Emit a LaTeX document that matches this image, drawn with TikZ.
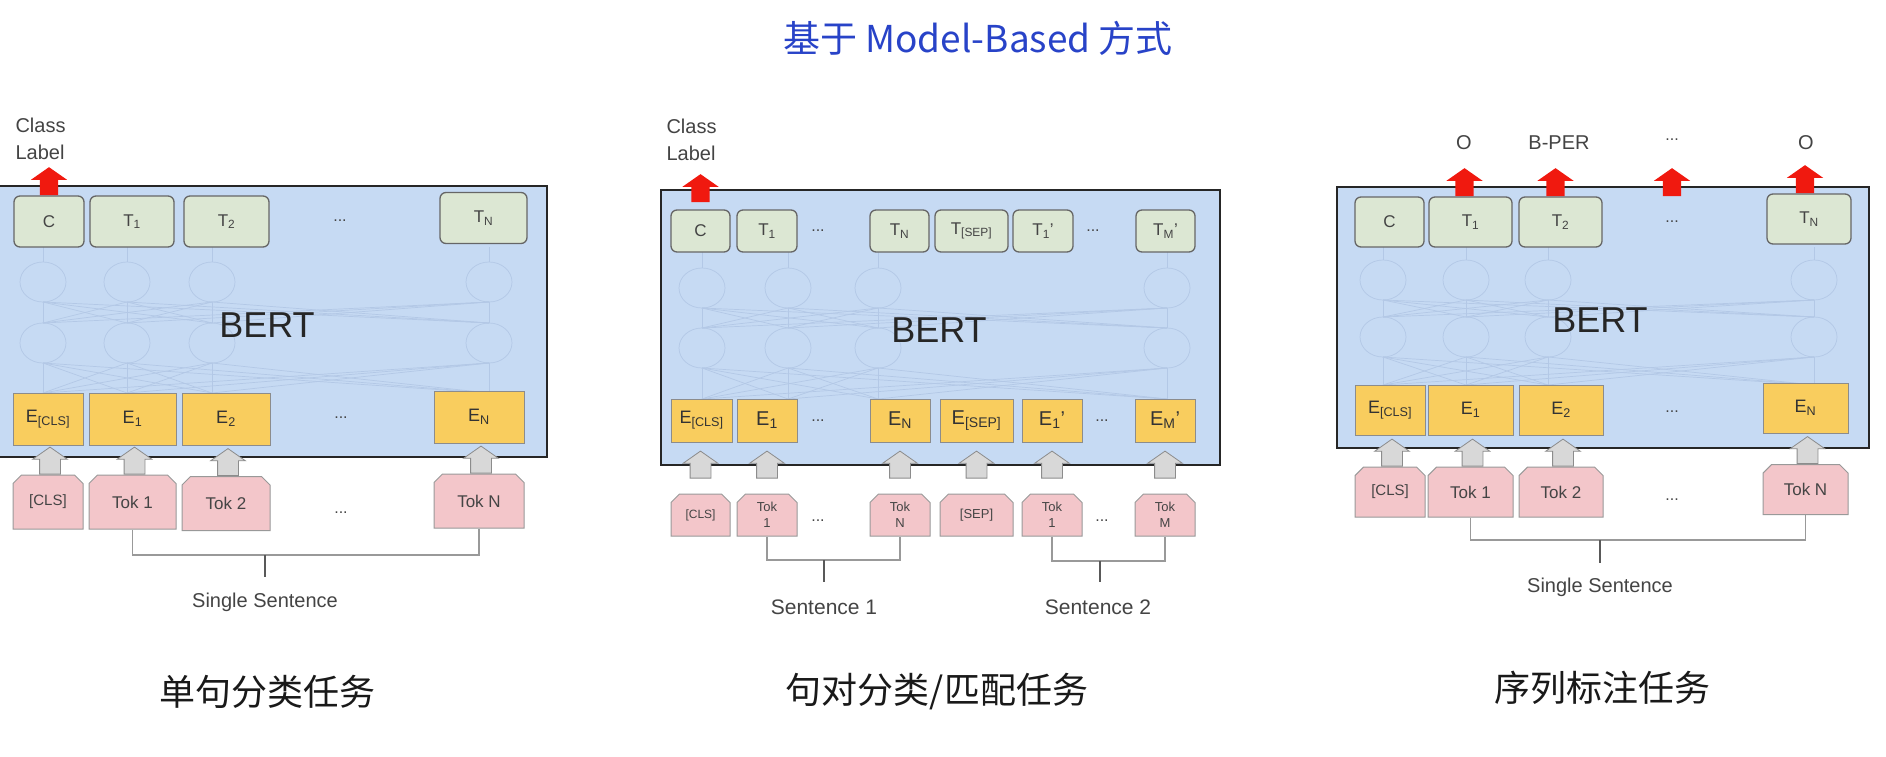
\documentclass[tikz,border=0pt]{standalone}
\usepackage{fontspec}
\setmainfont{Liberation Sans}
\newfontfamily\cjk{Noto Sans CJK SC}
\usepackage{tikz}
\usetikzlibrary{shapes.arrows,shapes.misc,calc}
\usepackage{xcolor}
\definecolor{bertfill}{HTML}{C6DAF3}
\definecolor{netline}{HTML}{B3C8E6}
\definecolor{outfill}{HTML}{DCE7D3}
\definecolor{embfill}{HTML}{F9CD5E}
\definecolor{tokfill}{HTML}{F3C6CA}
\definecolor{redarr}{HTML}{F0190F}
\definecolor{greyarr}{HTML}{D8D8D8}
\definecolor{titleblue}{HTML}{2843C8}
\definecolor{labgray}{HTML}{444444}

\begin{document}
\begin{tikzpicture}[x=1pt,y=-1pt,
  bert/.style={draw=black!85, line width=2.6pt, fill=bertfill},
  outbox/.style={draw=black!60, line width=1.3pt, fill=outfill, rounded corners=6pt, inner sep=0pt, font=\fontsize{17}{20}\selectfont, text=labgray},
  embbox/.style={draw=black!45, line width=1pt, fill=embfill, inner sep=0pt, font=\fontsize{18}{20}\selectfont, text=black!80},
  tokbox/.style={chamfered rectangle, chamfered rectangle corners={north west,north east}, chamfered rectangle xsep=5pt, draw=black!40, line width=1pt, fill=tokfill, inner sep=0pt, font=\fontsize{17}{20}\selectfont, text=labgray},
  redup/.style={single arrow, rotate=90, fill=redarr, draw=none, inner xsep=0pt, inner ysep=9pt, minimum height=28pt, single arrow head extend=9pt, single arrow tip angle=110},
  greyup/.style={single arrow, rotate=90, fill=greyarr, draw=black!45, line width=0.8pt, inner xsep=0pt, inner ysep=10pt, minimum height=27pt, single arrow head extend=7pt, single arrow tip angle=110},
  net/.style={draw=netline, line width=0.7pt},
  dots/.style={text=labgray, font=\fontsize{16}{18}\selectfont},
  lbl/.style={text=labgray, font=\fontsize{20}{27}\selectfont},
  brace/.style={draw=black!40, line width=1.2pt},
  stem/.style={draw=black!65, line width=2.2pt},
  bertlbl/.style={text=black!85, font=\fontsize{36}{40}\selectfont},
  caption/.style={text=black!90, font=\cjk\fontsize{36}{40}\selectfont},
]
\useasboundingbox (0,0) rectangle (1886,757);
\fill[white] (0,0) rectangle (1886,757);

\node[text=titleblue, font=\cjk\fontsize{37}{40}\selectfont] (title) at (978,38) {基于 Model-Based 方式};

% ---- panel 1: single sentence classification
\draw[bert] (-6,186) rectangle (547,457);
\foreach \cx in {43,127,212,489} {
  \draw[net] (\cx,282) ellipse [x radius=23pt, y radius=20pt];
  \draw[net] (\cx,343) ellipse [x radius=23pt, y radius=20pt];
  \draw[net] (\cx,247) -- (\cx,262);
  \foreach \dx in {43,127,212,489} {
    \draw[net] (\cx,302) -- (\dx,323);
    \draw[net] (\cx,363) -- (\dx,393);
  }
}
\node[bertlbl] (bert1) at (267,325) {BERT};
\node[outbox, minimum width=70pt, minimum height=51pt] (c1) at (49,221.5) {C};
\node[outbox, minimum width=84pt, minimum height=51pt] (t11) at (132,221.5) {T\textsubscript{1}};
\node[outbox, minimum width=85pt, minimum height=51pt] (t12) at (226.5,221.5) {T\textsubscript{2}};
\node[dots] (d1t) at (340,221) {...};
\node[outbox, minimum width=87pt, minimum height=51pt] (t1n) at (483.5,218) {T\textsubscript{N}};
\node[embbox, minimum width=70pt, minimum height=52pt] (e10) at (48,419) {E\textsubscript{[CLS]}};
\node[embbox, minimum width=87pt, minimum height=52pt] (e11) at (132.5,419) {E\textsubscript{1}};
\node[embbox, minimum width=88pt, minimum height=52pt] (e12) at (226,419) {E\textsubscript{2}};
\node[dots] (d1e) at (341,418) {...};
\node[embbox, minimum width=90pt, minimum height=52pt] (e1n) at (479,417) {E\textsubscript{N}};
\node[tokbox, minimum width=70pt, minimum height=54pt, font=\fontsize{15}{18}\selectfont] (tk10) at (48,502) {[CLS]};
\node[tokbox, minimum width=87pt, minimum height=54pt] (tk11) at (132.5,502) {Tok 1};
\node[tokbox, minimum width=88pt, minimum height=54pt] (tk12) at (226,503.5) {Tok 2};
\node[dots] (d1k) at (341,513) {...};
\node[tokbox, minimum width=90pt, minimum height=54pt] (tk1n) at (479,501) {Tok N};
\foreach \k in {tk10,tk11,tk12,tk1n}
  \node[greyup, anchor=tail] at ($(\k.north)+(2pt,0)$) {};
\node[redup, anchor=tail] (ra1) at (c1.north) {};
\node[lbl, align=left, anchor=west] (cl1) at (12,139) {Class\\Label};
\coordinate (b1) at (265,555);
\draw[brace] (tk11.south) |- (b1) -| (tk1n.south);
\draw[stem] (b1) -- ++(0,22);
\node[lbl] (ss1) at (265,602) {Single Sentence};
\node[caption] (cap1) at (267,692) {单句分类任务};

% ---- panel 2: sentence pair classification
\draw[bert] (661,190) rectangle (1220,465);
\foreach \cx in {702,788,878,1167} {
  \draw[net] (\cx,288) ellipse [x radius=23pt, y radius=20pt];
  \draw[net] (\cx,348) ellipse [x radius=23pt, y radius=20pt];
  \draw[net] (\cx,252) -- (\cx,268);
  \foreach \dx in {702,788,878,1167} {
    \draw[net] (\cx,308) -- (\dx,328);
    \draw[net] (\cx,368) -- (\dx,399);
  }
}
\node[bertlbl] (bert2) at (939,330) {BERT};
\node[outbox, minimum width=59pt, minimum height=42pt] (c2) at (700.5,231) {C};
\node[outbox, minimum width=60pt, minimum height=42pt] (t21) at (767,231) {T\textsubscript{1}};
\node[dots] (d2t) at (818,231) {...};
\node[outbox, minimum width=59pt, minimum height=42pt] (t2n) at (899.5,231) {T\textsubscript{N}};
\node[outbox, minimum width=73pt, minimum height=42pt] (t2s) at (971.5,231) {T\textsubscript{[SEP]}};
\node[outbox, minimum width=60pt, minimum height=42pt] (t2a) at (1043,231) {T\textsubscript{1}'};
\node[dots] (d2u) at (1093,231) {...};
\node[outbox, minimum width=59pt, minimum height=42pt] (t2m) at (1165.5,231) {T\textsubscript{M}'};
\node[embbox, minimum width=61pt, minimum height=43pt] (e20) at (701.5,420.5) {E\textsubscript{[CLS]}};
\node[embbox, minimum width=60pt, minimum height=43pt, font=\fontsize{20}{22}\selectfont] (e21) at (767,420.5) {E\textsubscript{1}};
\node[dots] (d2e) at (818,421) {...};
\node[embbox, minimum width=60pt, minimum height=43pt, font=\fontsize{20}{22}\selectfont] (e2n) at (900,420.5) {E\textsubscript{N}};
\node[embbox, minimum width=73pt, minimum height=43pt, font=\fontsize{20}{22}\selectfont] (e2s) at (976.5,420.5) {E\textsubscript{[SEP]}};
\node[embbox, minimum width=60pt, minimum height=43pt, font=\fontsize{20}{22}\selectfont] (e2a) at (1052,420.5) {E\textsubscript{1}'};
\node[dots] (d2f) at (1102,421) {...};
\node[embbox, minimum width=60pt, minimum height=43pt, font=\fontsize{20}{22}\selectfont] (e2m) at (1165,420.5) {E\textsubscript{M}'};
\node[tokbox, minimum width=59pt, minimum height=42pt, font=\fontsize{12}{15}\selectfont] (tk20) at (700.5,515) {[CLS]};
\node[tokbox, minimum width=60pt, minimum height=42pt, align=center, font=\fontsize{13}{16}\selectfont] (tk21) at (767,515) {Tok\\1};
\node[dots] (d2k) at (818,521) {...};
\node[tokbox, minimum width=60pt, minimum height=42pt, align=center, font=\fontsize{13}{16}\selectfont] (tk2n) at (900,515) {Tok\\N};
\node[tokbox, minimum width=73pt, minimum height=42pt, font=\fontsize{13}{16}\selectfont] (tk2s) at (976.5,515) {[SEP]};
\node[tokbox, minimum width=60pt, minimum height=42pt, align=center, font=\fontsize{13}{16}\selectfont] (tk2a) at (1052,515) {Tok\\1};
\node[dots] (d2l) at (1102,521) {...};
\node[tokbox, minimum width=60pt, minimum height=42pt, align=center, font=\fontsize{13}{16}\selectfont] (tk2m) at (1165,515) {Tok\\M};
\foreach \k in {tk20,tk21,tk2n,tk2s,tk2a,tk2m}
  \node[greyup, anchor=tail] at ($(\k.north)+(0,15pt)$) {};
\node[redup, anchor=tail] (ra2) at ($(c2.north)+(0,7pt)$) {};
\node[lbl, align=left, anchor=west] (cl2) at (663,139.5) {Class\\Label};
\coordinate (b2) at (824,560);
\coordinate (b3) at (1100,561);
\draw[brace] (tk21.south) |- (b2) -| (tk2n.south);
\draw[brace] (tk2a.south) |- (b3) -| (tk2m.south);
\draw[stem] (b2) -- ++(0,22);
\draw[stem] (b3) -- ++(0,21);
\node[lbl, font=\fontsize{21}{25}\selectfont] (s21) at (824,607) {Sentence 1};
\node[lbl, font=\fontsize{21}{25}\selectfont] (s22) at (1098,607) {Sentence 2};
\node[caption] (cap2) at (937,692) {句对分类/匹配任务};

% ---- panel 3: sequence labelling
\draw[bert] (1337,187) rectangle (1869,448);
\foreach \cx in {1383,1466,1548,1814} {
  \draw[net] (\cx,280) ellipse [x radius=23pt, y radius=20pt];
  \draw[net] (\cx,337) ellipse [x radius=23pt, y radius=20pt];
  \draw[net] (\cx,247) -- (\cx,260);
  \foreach \dx in {1383,1466,1548,1814} {
    \draw[net] (\cx,300) -- (\dx,317);
    \draw[net] (\cx,357) -- (\dx,385);
  }
}
\node[bertlbl] (bert3) at (1600,320) {BERT};
\node[outbox, minimum width=69pt, minimum height=50pt] (c3) at (1389.5,222) {C};
\node[outbox, minimum width=83pt, minimum height=50pt] (t31) at (1470.5,222) {T\textsubscript{1}};
\node[outbox, minimum width=83pt, minimum height=50pt] (t32) at (1560.5,222) {T\textsubscript{2}};
\node[dots] (d3t) at (1672,222) {...};
\node[outbox, minimum width=84pt, minimum height=50pt] (t3n) at (1809,219) {T\textsubscript{N}};
\node[embbox, minimum width=70pt, minimum height=50pt] (e30) at (1390,410) {E\textsubscript{[CLS]}};
\node[embbox, minimum width=85pt, minimum height=50pt] (e31) at (1470.5,410) {E\textsubscript{1}};
\node[embbox, minimum width=84pt, minimum height=50pt] (e32) at (1561,410) {E\textsubscript{2}};
\node[dots] (d3e) at (1672,412) {...};
\node[embbox, minimum width=85pt, minimum height=50pt] (e3n) at (1805.5,408) {E\textsubscript{N}};
\node[tokbox, minimum width=70pt, minimum height=50pt, font=\fontsize{15}{18}\selectfont] (tk30) at (1390,492) {[CLS]};
\node[tokbox, minimum width=85pt, minimum height=50pt] (tk31) at (1470.5,492) {Tok 1};
\node[tokbox, minimum width=84pt, minimum height=50pt] (tk32) at (1561,492) {Tok 2};
\node[dots] (d3k) at (1672,500) {...};
\node[tokbox, minimum width=85pt, minimum height=50pt] (tk3n) at (1805.5,489.5) {Tok N};
\foreach \k in {tk30,tk31,tk32,tk3n}
  \node[greyup, anchor=tail] at ($(\k.north)+(2pt,0)$) {};
\node[redup, anchor=tail] (ra31) at ($(t31.north)+(-6pt,0)$) {};
\node[redup, anchor=tail] (ra32) at ($(t32.north)+(-5pt,0)$) {};
\node[redup, anchor=tail] (ra3d) at (d3t |- t31.north) {};
\node[redup, anchor=tail] (ra3n) at ($(t3n.north)+(-4pt,0)$) {};
\node[lbl] (o31) at (1464,143) {O};
\node[lbl] (o32) at (1559,143) {B-PER};
\node[dots] (o3d) at (1672,140) {...};
\node[lbl] (o3n) at (1806,143) {O};
\coordinate (b4) at (1600,540);
\draw[brace] (tk31.south) |- (b4) -| (tk3n.south);
\draw[stem] (b4) -- ++(0,23);
\node[lbl] (ss3) at (1600,587) {Single Sentence};
\node[caption] (cap3) at (1602,688) {序列标注任务};
\end{tikzpicture}
\end{document}
